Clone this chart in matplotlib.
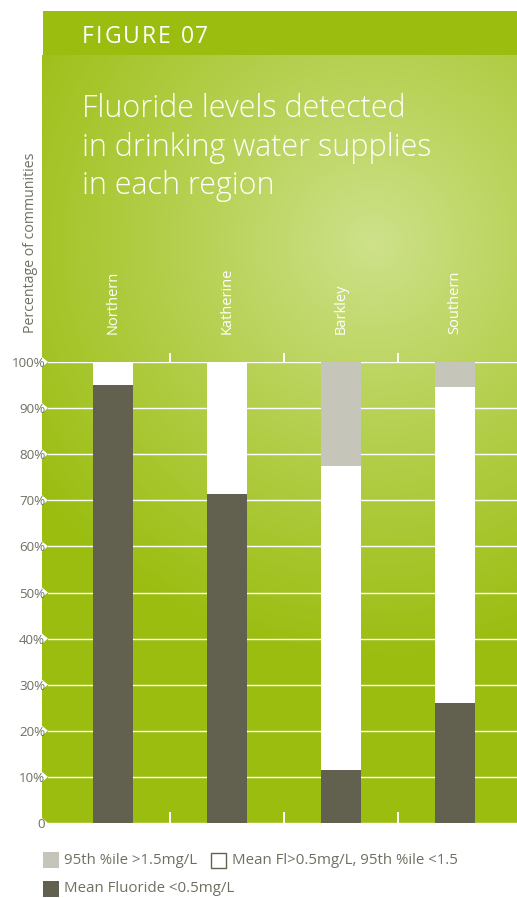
import numpy as np
import matplotlib
matplotlib.use("Agg")
import matplotlib.pyplot as plt
from matplotlib.patches import Rectangle, Polygon
from matplotlib import transforms

# ---- data -------------------------------------------------------------
regions = ["Northern", "Katherine", "Barkley", "Southern"]
mean_low = [95.0, 71.4, 11.5, 26.0]          # Mean Fluoride <0.5mg/L
mean_mid = [5.0, 28.6, 65.9, 68.6]           # Mean Fl>0.5mg/L, 95th %ile <1.5
p95_high = [0.0, 0.0, 22.6, 5.4]             # 95th %ile >1.5mg/L
y_ticks = [0, 10, 20, 30, 40, 50, 60, 70, 80, 90, 100]
y_tick_labels = ["0"] + [f"{v}%" for v in y_ticks[1:]]
legend_labels = ["95th %ile >1.5mg/L", "Mean Fl>0.5mg/L, 95th %ile <1.5",
                 "Mean Fluoride <0.5mg/L"]

# ---- style ------------------------------------------------------------
W, H = 517, 898
FONT = ["Open Sans", "DejaVu Sans"]
plt.rcParams["font.family"] = FONT
DARK = "#626150"
GREY = "#c5c5ba"
TEXT_GREY = "#6f6f62"
GREEN = np.array([154, 189, 15]) / 255
LIGHT = np.array([206, 225, 139]) / 255

fig = plt.figure(figsize=(W / 100, H / 100), dpi=100)
fig.patch.set_facecolor("white")

# full-figure canvas in pixel units for the panel artwork
bg = fig.add_axes([0, 0, 1, 1])
bg.set_xlim(0, W)
bg.set_ylim(H, 0)
bg.axis("off")

# header band
bg.add_patch(Rectangle((43, 11), W - 43, 44, color=GREEN, lw=0, zorder=1))

# radial gradient panel
px0, px1, py0, py1 = 42, W, 55, 823
xs = np.arange(px0, px1) + 0.5
ys = np.arange(py0, py1) + 0.5
gx, gy = np.meshgrid(xs, ys)
r = np.hypot(gx - 373, gy - 243)
t = np.clip(r / 420.0, 0, 1) ** 0.95
img = LIGHT[None, None, :] * (1 - t[..., None]) + GREEN[None, None, :] * t[..., None]
bg.imshow(img, extent=(px0, px1, py1, py0), interpolation="bilinear", zorder=0,
          aspect="auto")
bg.set_xlim(0, W)
bg.set_ylim(H, 0)

# header text with letter spacing
fig.canvas.draw()
renderer = fig.canvas.get_renderer()
xpos = 82
for ch in "FIGURE 07":
    tt = bg.text(xpos, 43, ch, color="white", fontsize=16.5, family=FONT,
                 va="baseline", ha="left", zorder=3)
    wpx = tt.get_window_extent(renderer).width if ch != " " else 6
    xpos += wpx + 2.0

# title
for i, line in enumerate(["Fluoride levels detected",
                          "in drinking water supplies",
                          "in each region"]):
    bg.text(82, 117 + i * 38.5, line, color="white", fontsize=22,
            fontweight="light", family=FONT, va="baseline", ha="left", zorder=3)

# ---- bar chart --------------------------------------------------------
ax = fig.add_axes([48 / W, (H - 823) / H, (W - 48) / W, (823 - 362) / H])
ax.patch.set_alpha(0)
x = np.arange(len(regions))
bw = 0.35
ax.bar(x, mean_low, bw, color=DARK, zorder=3, lw=0)
ax.bar(x, mean_mid, bw, bottom=mean_low, color="white", zorder=3, lw=0)
ax.bar(x, p95_high, bw, bottom=np.add(mean_low, mean_mid), color=GREY,
       zorder=3, lw=0)
ax.set_xlim(-0.57, 3.544)
ax.set_ylim(0, 100)

for s in ax.spines.values():
    s.set_visible(False)

ax.set_yticks(y_ticks, y_tick_labels)
ax.tick_params(axis="y", length=0, pad=2, labelsize=9.6, labelcolor=TEXT_GREY)
ax.yaxis.grid(True, color="white", lw=1.0, zorder=1)
ax.set_axisbelow(True)

ax.set_xticks(x, regions, rotation=90)
ax.xaxis.set_ticks_position("top")
ax.tick_params(axis="x", which="major", length=0, pad=20.5, labelsize=10.5,
               labelcolor="white")
ax.set_xticks(x[:-1] + 0.5, minor=True)
ax.tick_params(axis="x", which="minor", top=True, bottom=False, direction="out",
               length=6.5, width=1.4, color="white")

# inward markers on the baseline between regions
btr = transforms.blended_transform_factory(ax.transData, ax.transAxes)
ax.vlines(x[:-1] + 0.5, 0, 11 / 461, transform=btr, color="white", lw=1.4,
          zorder=2, clip_on=False)

# white notches at the left end of each gridline
for v in y_ticks:
    yp = H - ax.transData.transform((0, v))[1]
    bg.add_patch(Polygon([(41.5, yp - 5.5), (48, yp), (41.5, yp + 5.5)],
                         closed=True, color="white", lw=0, zorder=2))

fig.text(31 / W, 1 - 333 / H, "Percentage of communities", rotation=90,
         ha="center", va="bottom", fontsize=10.2, color=TEXT_GREY)

# ---- legend -----------------------------------------------------------
leg_items = [(43, 852, GREY, None, legend_labels[0], 64),
             (210.5, 852.5, "white", DARK, legend_labels[1], 232),
             (43, 881, DARK, None, legend_labels[2], 64)]
for lx, ly, fc, ec, lab, tx in leg_items:
    if ec is None:
        bg.add_patch(Rectangle((lx, ly), 16, 16, facecolor=fc, lw=0, zorder=3))
    else:
        bg.add_patch(Rectangle((lx, ly), 15, 15, facecolor=fc, edgecolor=ec,
                               lw=1.0, zorder=3))
    bg.text(tx, ly + 8, lab, fontsize=10.8, color=TEXT_GREY, va="center",
            ha="left", zorder=3)

fig.savefig("out.png", dpi=100, facecolor="white")
